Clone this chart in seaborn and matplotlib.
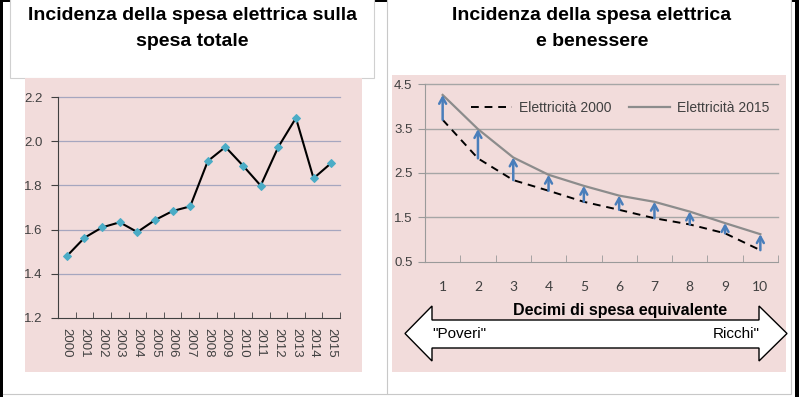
import matplotlib
matplotlib.use('Agg')
import matplotlib.pyplot as plt
import numpy as np
import seaborn as sns
from matplotlib.patches import Rectangle, Polygon
from matplotlib.lines import Line2D

# data
years = [str(y) for y in range(2000, 2016)]
incidenza = [1.48, 1.563, 1.61, 1.633, 1.589, 1.643, 1.684, 1.705,
             1.91, 1.974, 1.889, 1.799, 1.974, 2.105, 1.832, 1.901]
decimi = list(range(1, 11))
elett_2000 = [3.70, 2.83, 2.34, 2.10, 1.85, 1.67, 1.48, 1.34, 1.14, 0.76]
elett_2015 = [4.26, 3.49, 2.85, 2.46, 2.21, 1.99, 1.85, 1.63, 1.37, 1.12]

plt.rcParams['font.family'] = ['Liberation Sans', 'DejaVu Sans']

W, H = 799, 397
PINK = '#f2dcdb'
fig = plt.figure(figsize=(W / 100, H / 100), dpi=100)


def box(x0, y0, x1, y1, **kw):
    # rectangle in pixel coords (y from top)
    fig.patches.append(Rectangle((x0 / W, 1 - y1 / H), (x1 - x0) / W, (y1 - y0) / H,
                                 transform=fig.transFigure, zorder=-5, **kw))


def fline(x0, y0, x1, y1, **kw):
    fig.lines.append(Line2D([x0 / W, x1 / W], [1 - y0 / H, 1 - y1 / H],
                            transform=fig.transFigure, **kw))


# frame / panels
box(0, 0, 3, 397, fc='black', ec='none')
box(0, 0, 799, 2, fc='black', ec='none')
box(795, 0, 799, 397, fc='black', ec='none')
box(10, -2, 374, 78, fc='white', ec='#d0d0d0', lw=0.8)
box(387, -2, 791, 394, fc='white', ec='#c8c8c8', lw=0.8)
fline(3, 394, 387, 394, color='#c8c8c8', lw=0.8)
box(25, 78, 362, 372, fc=PINK, ec='none')
box(392, 75, 786, 372, fc=PINK, ec='none')

# titles
fig.text(192.5 / W, 1 - 16 / H, 'Incidenza della spesa elettrica sulla', ha='center', va='center',
         fontsize=14, fontweight='bold')
fig.text(192.5 / W, 1 - 41 / H, 'spesa totale', ha='center', va='center',
         fontsize=14, fontweight='bold')
fig.text(592 / W, 1 - 16 / H, 'Incidenza della spesa elettrica', ha='center', va='center',
         fontsize=14, fontweight='bold')
fig.text(592 / W, 1 - 42 / H, 'e benessere', ha='center', va='center',
         fontsize=14, fontweight='bold')

# left chart
ax1 = fig.add_axes([58 / W, 1 - 318 / H, 282 / W, 221 / H])
ax1.patch.set_alpha(0)
pos = np.arange(len(years))
for y in np.arange(1.4, 2.21, 0.2):
    ax1.axhline(y, color='#a6a6bf', lw=0.9, zorder=0, clip_on=False)
sns.lineplot(x=pos, y=incidenza, ax=ax1, color='black', lw=1.5, marker='D', markersize=4.5,
             markerfacecolor='#4bacc6', markeredgecolor='#4bacc6', zorder=3)
ax1.set_xlim(-0.5, len(years) - 0.5)
ax1.set_ylim(1.2, 2.2)
ax1.set_yticks(np.arange(1.2, 2.21, 0.2))
ax1.set_yticklabels([f'{v:.1f}' for v in np.arange(1.2, 2.21, 0.2)])
ax1.set_xticks(pos)
ax1.set_xticklabels(years, rotation=-90)
ax1.set_xticks(np.arange(-0.5, len(years), 1), minor=True)
ax1.tick_params(axis='x', which='major', length=0, pad=7, labelsize=9.5, labelcolor='#404040')
ax1.tick_params(axis='x', which='minor', direction='in', length=4, color='#404040')
ax1.tick_params(axis='y', length=5, pad=6, labelsize=9.5, labelcolor='#404040', color='#404040')
for s in ['top', 'right']:
    ax1.spines[s].set_visible(False)
for s in ['left', 'bottom']:
    ax1.spines[s].set_color('#404040')
ax1.set_xlabel('')
ax1.set_ylabel('')

# right chart
ax2 = fig.add_axes([425 / W, 1 - 261.7 / H, 353 / W, 177.4 / H])
ax2.patch.set_alpha(0)
for y in np.arange(1.5, 4.51, 1.0):
    ax2.axhline(y, color='#a6a6a6', lw=1, zorder=0, clip_on=False)
sns.lineplot(x=decimi, y=elett_2000, ax=ax2, color='black', lw=1.4, linestyle=(0, (4, 3)),
             label='Elettricità 2000', zorder=3)
sns.lineplot(x=decimi, y=elett_2015, ax=ax2, color='#8c8c8c', lw=1.6,
             label='Elettricità 2015', zorder=3)
for d, a, b in zip(decimi, elett_2000, elett_2015):
    ax2.annotate('', xy=(d, b), xytext=(d, a), zorder=4,
                 arrowprops=dict(arrowstyle='->,head_length=0.45,head_width=0.25',
                                 color='#4a7ebb', lw=1.8, shrinkA=0, shrinkB=0))
ax2.set_xlim(0.5, 10.5)
ax2.set_ylim(0.5, 4.5)
ax2.set_yticks(np.arange(0.5, 4.51, 1.0))
ax2.set_yticklabels([f'{v:.1f}' for v in np.arange(0.5, 4.51, 1.0)])
ax2.set_xticks(decimi)
ax2.set_xticklabels([str(d) for d in decimi], fontfamily='Lato')
ax2.set_xticks(np.arange(0.5, 10.6, 1), minor=True)
ax2.tick_params(axis='x', which='major', length=0, pad=14, labelsize=10, labelcolor='#404040')
ax2.tick_params(axis='x', which='minor', direction='in', length=5, color='#9a9a9a')
ax2.tick_params(axis='y', length=5, pad=4, labelsize=9.5, labelcolor='#404040', color='#9a9a9a')
for s in ['top', 'right']:
    ax2.spines[s].set_visible(False)
for s in ['left', 'bottom']:
    ax2.spines[s].set_color('#9a9a9a')
ax2.set_xlabel('')
ax2.set_ylabel('')
leg = ax2.legend(loc='center', bbox_to_anchor=(0.553, 0.866), ncol=2, frameon=False,
                 fontsize=10, handlelength=3, columnspacing=1.2, handletextpad=0.5)
for t in leg.get_texts():
    t.set_color('#404040')

# double arrow "Poveri" <-> "Ricchi"
pts = [(405, 333.5), (432, 306), (432, 320), (759, 320), (759, 306), (787, 333.5),
       (759, 361), (759, 348), (432, 348), (432, 361)]
fig.patches.append(Polygon([(x / W, 1 - y / H) for x, y in pts], closed=True,
                           transform=fig.transFigure, fc='white', ec='black', lw=1))
fig.text(620 / W, 1 - 310 / H, 'Decimi di spesa equivalente', ha='center', va='center',
         fontsize=11.5, fontweight='bold')
fig.text(432 / W, 1 - 334 / H, '"Poveri"', ha='left', va='center', fontsize=11)
fig.text(760 / W, 1 - 334 / H, 'Ricchi"', ha='right', va='center', fontsize=11)

fig.savefig('out.png', dpi=100)
